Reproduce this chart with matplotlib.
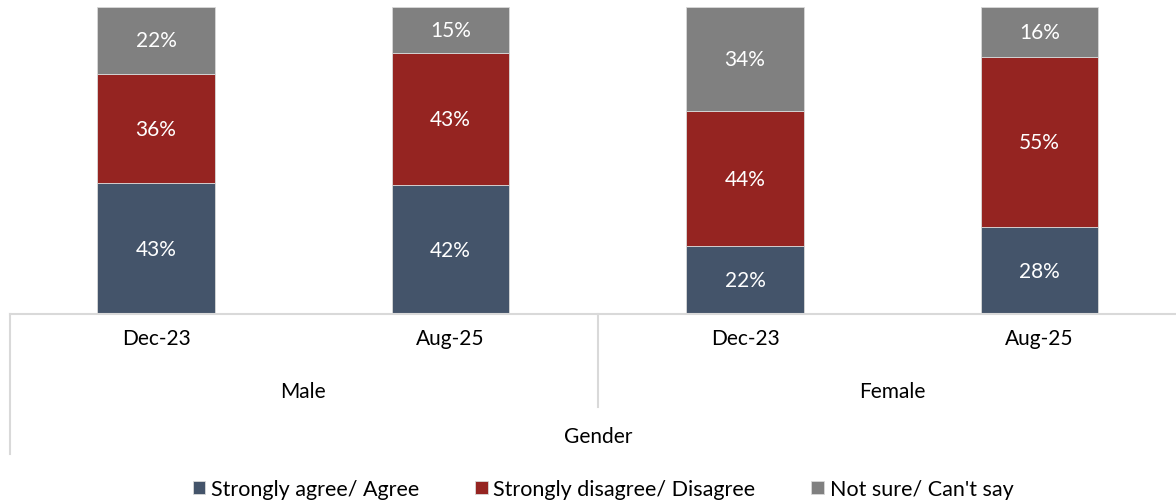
import numpy as np
import matplotlib.pyplot as plt
from matplotlib.lines import Line2D
from matplotlib.transforms import blended_transform_factory

plt.rcParams['font.family'] = ['Lato', 'DejaVu Sans']

periods = ["Dec-23", "Aug-25", "Dec-23", "Aug-25"]
groups = ["Male", "Female"]
axis_title = "Gender"
series = ["Strongly agree/ Agree", "Strongly disagree/ Disagree", "Not sure/ Can't say"]
agree = [43, 42, 22, 28]
disagree = [36, 43, 44, 55]
not_sure = [22, 15, 34, 16]
colors = ["#44546A", "#952421", "#808080"]

W, H = 1176, 502
fig = plt.figure(figsize=(W / 100, H / 100), dpi=100)
ax = fig.add_axes([10 / W, 1 - 315 / H, 1166 / W, 307 / H])

data = np.array([agree, disagree, not_sure], dtype=float)
totals = data.sum(axis=0)
share = data / totals * 100
x = np.arange(len(periods))
bottom = np.zeros(len(periods))
handles = []
for i, name in enumerate(series):
    b = ax.bar(x, share[i], 0.40, bottom=bottom, color=colors[i],
               edgecolor="#d9d9d9", linewidth=0.6, label=name)
    handles.append(b)
    for xi, v, s, bt in zip(x, data[i], share[i], bottom):
        ax.text(xi, bt + s / 2, f"{int(v)}%", ha="center", va="center",
                color="white", fontsize=15)
    bottom += share[i]

ax.set_xlim((10 - 156) / 294.5, (W - 156) / 294.5)
ax.set_ylim(0, 100)
for s in ["top", "right", "left"]:
    ax.spines[s].set_visible(False)
ax.spines["bottom"].set_color("#d9d9d9")
ax.spines["bottom"].set_linewidth(1.5)
ax.set_xticks([])
ax.set_yticks([])

tr = blended_transform_factory(ax.transData, fig.transFigure)
for xi, p in zip(x, periods):
    ax.text(xi, 1 - 339 / H, p, transform=tr, ha="center", va="center", fontsize=15)
for gi, g in enumerate(groups):
    ax.text(0.5 + 2 * gi, 1 - 392 / H, g, transform=tr, ha="center", va="center", fontsize=15)
ax.text(1.5, 1 - 437 / H, axis_title, transform=tr, ha="center", va="center", fontsize=15)

# category separator lines
fig.add_artist(Line2D([10 / W, 10 / W], [1 - 315 / H, 1 - 455 / H], color="#d9d9d9", lw=1.5))
fig.add_artist(Line2D([598 / W, 598 / W], [1 - 315 / H, 1 - 408 / H], color="#d9d9d9", lw=1.5))

fig.legend(handles=handles, labels=series, loc="center", ncol=3,
           bbox_to_anchor=(603 / W, 1 - 490 / H), frameon=False, fontsize=15.5,
           handlelength=0.6, handleheight=0.6, handletextpad=0.25, columnspacing=2.6)

fig.savefig("out.png", dpi=100)
